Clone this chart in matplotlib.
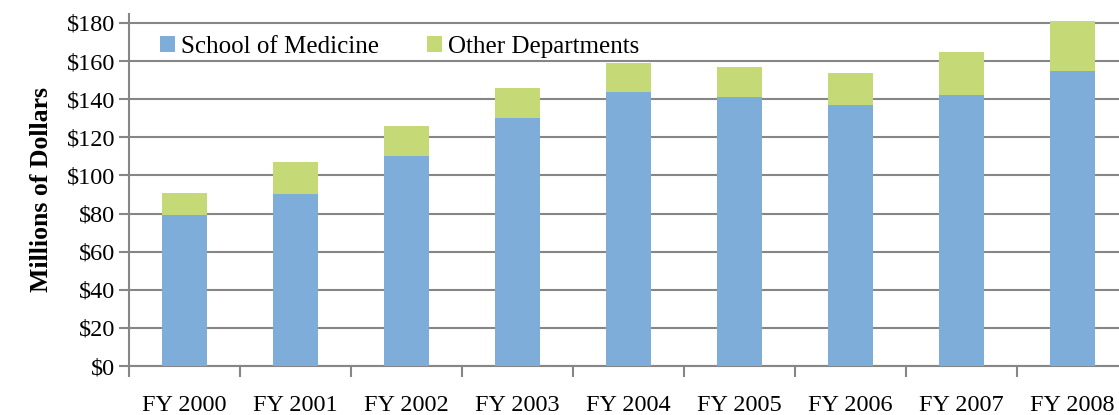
import numpy as np
import matplotlib
matplotlib.use('Agg')
import matplotlib.pyplot as plt
from matplotlib.ticker import FixedLocator, FuncFormatter

years = ['FY 2000', 'FY 2001', 'FY 2002', 'FY 2003', 'FY 2004',
         'FY 2005', 'FY 2006', 'FY 2007', 'FY 2008']
medicine = [79, 90, 110, 130, 144, 141, 137, 142, 155]
totals = [91, 107, 126, 146, 159, 157, 153.5, 164.5, 181]
other = [t - m for t, m in zip(totals, medicine)]

blue = '#7eadd9'
green = '#c5da76'
grid_col = '#868686'

plt.rcParams['font.family'] = ['Liberation Serif', 'DejaVu Serif']

fig = plt.figure(figsize=(11.19, 4.15), dpi=100)
ax = fig.add_axes([129 / 1119, 1 - 366 / 415, 999 / 1119, (366 - 14) / 415])

x = np.arange(len(years))
ax.bar(x, medicine, width=0.4, color=blue, label='School of Medicine', zorder=3)
ax.bar(x, other, width=0.4, bottom=medicine, color=green,
       label='Other Departments', zorder=3)

ax.set_xlim(-0.5, len(years) - 0.5)
ax.set_ylim(0, 184.7)
ax.set_yticks(np.arange(0, 181, 20))
ax.yaxis.set_major_formatter(FuncFormatter(lambda v, p: '${:.0f}'.format(v)))
ax.yaxis.grid(True, color=grid_col, linewidth=1.5, zorder=0)

ax.set_xticks(x)
ax.set_xticklabels(years, fontsize=17.5)
ax.tick_params(axis='x', which='major', length=0, pad=21)
ax.xaxis.set_minor_locator(FixedLocator(np.arange(-0.5, len(years), 1)))
ax.tick_params(axis='x', which='minor', length=8, width=1.5, color=grid_col,
               direction='out')
ax.tick_params(axis='y', labelsize=17.5, length=7, width=1.5, color=grid_col,
               pad=3)

for side in ['top', 'right']:
    ax.spines[side].set_visible(False)
for side in ['left', 'bottom']:
    ax.spines[side].set_color(grid_col)
    ax.spines[side].set_linewidth(1.5)

ax.set_ylabel('Millions of Dollars', fontsize=18.5, fontweight='bold', labelpad=10)

ax.legend(loc='upper left', bbox_to_anchor=(0.016, 0.98), ncol=2, frameon=False,
          fontsize=18, handlelength=0.6, handleheight=0.6, handletextpad=0.25,
          columnspacing=1.9, borderaxespad=0.2)

fig.savefig('out.png', dpi=100)
